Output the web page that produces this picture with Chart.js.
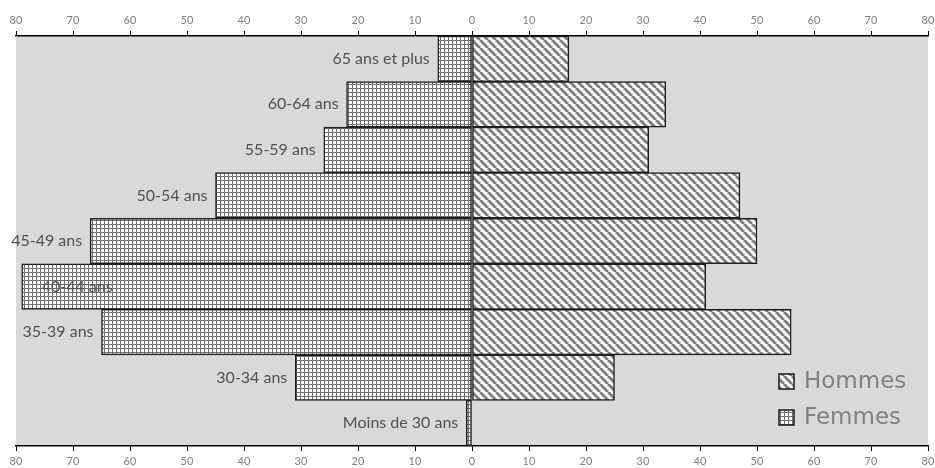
<!DOCTYPE html>
<html><head><meta charset="utf-8">
<script src="https://cdn.jsdelivr.net/npm/chart.js@4/dist/chart.umd.min.js"></script>
<style>html,body{margin:0;padding:0;background:#fff}#wrap{width:935px;height:468px}</style>
</head><body><div id="wrap"><canvas id="c" width="935" height="468"></canvas></div>
<script>
const categories = ['65 ans et plus','60-64 ans','55-59 ans','50-54 ans','45-49 ans','40-44 ans','35-39 ans','30-34 ans','Moins de 30 ans'];
const hommes = [17,34,31,47,50,41,56,25,0];
const femmes = [6,22,26,45,67,79,65,31,1];
const tickValues = [-80,-70,-60,-50,-40,-30,-20,-10,0,10,20,30,40,50,60,70,80];
const seriesNames = ['Hommes','Femmes'];

const canvas = document.getElementById('c');
const ctx = canvas.getContext('2d');

function stripePattern(c2, size, lw) {
  const c = document.createElement('canvas'); c.width = size; c.height = size;
  const g = c.getContext('2d');
  g.fillStyle = '#fff'; g.fillRect(0,0,size,size);
  g.strokeStyle = '#808080'; g.lineWidth = lw;
  for (const o of [-size, 0, size]) { g.beginPath(); g.moveTo(o, 0); g.lineTo(o + size, size); g.stroke(); }
  return c2.createPattern(c, 'repeat');
}
function gridPattern(c2, size) {
  const c = document.createElement('canvas'); c.width = size; c.height = size;
  const g = c.getContext('2d');
  g.fillStyle = '#fff'; g.fillRect(0,0,size,size);
  g.fillStyle = '#6e6e6e';
  g.fillRect(0,0,size,1); g.fillRect(0,0,1,size);
  return c2.createPattern(c, 'repeat');
}
const stripes = stripePattern(ctx, 8, 3);
const grid = gridPattern(ctx, 4);

const bgPlugin = {
  id: 'bg',
  beforeDraw(chart) {
    const {ctx, chartArea: a} = chart;
    ctx.save(); ctx.fillStyle = '#d9d9d9';
    ctx.fillRect(a.left, a.top, a.right - a.left, a.bottom - a.top);
    ctx.restore();
  }
};
const labelPlugin = {
  id: 'catLabels',
  afterDatasetsDraw(chart) {
    const meta = chart.getDatasetMeta(1);
    const c = chart.ctx;
    c.save();
    c.font = '16px Lato'; c.fillStyle = '#505050'; c.textBaseline = 'middle';
    meta.data.forEach((bar, i) => {
      const t = categories[i];
      const w = c.measureText(t).width;
      const x = bar.x - 8;
      if (x - w < 0) { c.textAlign = 'left'; c.fillText(t, bar.x + 20, bar.y); }
      else { c.textAlign = 'right'; c.fillText(t, x, bar.y); }
    });
    c.restore();
  }
};
const legendPlugin = {
  id: 'customLegend',
  afterDraw(chart) {
    const c = chart.ctx;
    const items = [{name: seriesNames[0], fill: stripes, y: 381}, {name: seriesNames[1], fill: grid, y: 417}];
    c.save();
    c.font = '23px "DejaVu Sans"'; c.textBaseline = 'middle'; c.textAlign = 'left';
    items.forEach(it => {
      c.fillStyle = it.fill; c.fillRect(779, it.y - 7, 15, 15);
      c.strokeStyle = '#1a1a1a'; c.lineWidth = 1.5; c.strokeRect(779, it.y - 7, 15, 15);
      c.fillStyle = '#808080'; c.fillText(it.name, 804, it.y + 1);
    });
    c.restore();
  }
};

function xAxis(pos, h) {
  return {
    type: 'linear', position: pos, min: -80, max: 80, stacked: true,
    afterBuildTicks: s => { s.ticks = tickValues.map(v => ({value: v})); },
    ticks: { callback: v => Math.abs(v), font: {family: 'Lato', size: 11}, color: '#7f7f7f', padding: 4, maxRotation: 0, autoSkip: false },
    grid: { drawOnChartArea: false, drawTicks: true, tickLength: 5, color: '#000', lineWidth: 1 },
    border: { display: true, color: '#000', width: 1.5 },
    afterFit: s => { s.height = h; s.paddingLeft = 0; s.paddingRight = 0; }
  };
}

new Chart(canvas, {
  type: 'bar',
  data: {
    labels: categories,
    datasets: [
      { label: seriesNames[0], data: hommes, backgroundColor: stripes, borderColor: '#1f1f1f', borderWidth: 1.5, borderSkipped: false, barPercentage: 1, categoryPercentage: 1, xAxisID: 'x' },
      { label: seriesNames[1], data: femmes.map(v => -v), backgroundColor: grid, borderColor: '#1f1f1f', borderWidth: 1.5, borderSkipped: false, barPercentage: 1, categoryPercentage: 1, xAxisID: 'x' }
    ]
  },
  options: {
    indexAxis: 'y', responsive: false, animation: false,
    layout: { padding: { left: 16, right: 7, top: 0, bottom: 0 } },
    plugins: { legend: { display: false }, tooltip: { enabled: false } },
    scales: {
      y: { type: 'category', stacked: true, display: false },
      x: xAxis('bottom', 22),
      x2: xAxis('top', 36)
    }
  },
  plugins: [bgPlugin, labelPlugin, legendPlugin]
});
</script></body></html>
